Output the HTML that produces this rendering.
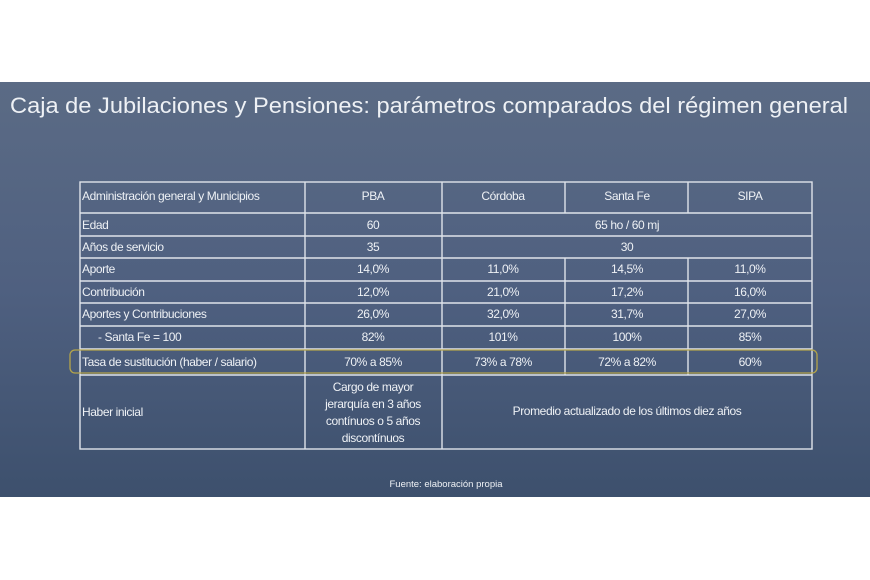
<!DOCTYPE html>
<html><head><meta charset="utf-8"><style>
html,body{margin:0;padding:0;background:#fff;}
svg{display:block}
text{font-family:"Liberation Sans",sans-serif;fill:#eef1f5;}
</style></head><body>
<svg width="870" height="580" viewBox="0 0 870 580" xmlns="http://www.w3.org/2000/svg">
<defs><linearGradient id="g" x1="0" y1="0" x2="0" y2="1">
<stop offset="0" stop-color="#5b6b85"/><stop offset="0.5" stop-color="#4f6080"/><stop offset="1" stop-color="#3d506d"/></linearGradient></defs>
<rect x="0" y="82" width="870" height="415" fill="url(#g)"/>
<text x="10" y="113" font-size="22" textLength="838" lengthAdjust="spacingAndGlyphs" fill="#f2f4f8">Caja de Jubilaciones y Pensiones: parámetros comparados del régimen general</text>
<g stroke="#dfe3ea" stroke-width="1.4" fill="none">
<rect x="80" y="182" width="732" height="267"/>
<line x1="80" y1="213" x2="812" y2="213"/>
<line x1="80" y1="236" x2="812" y2="236"/>
<line x1="80" y1="258" x2="812" y2="258"/>
<line x1="80" y1="281" x2="812" y2="281"/>
<line x1="80" y1="303" x2="812" y2="303"/>
<line x1="80" y1="326" x2="812" y2="326"/>
<line x1="80" y1="349" x2="812" y2="349"/>
<line x1="80" y1="375" x2="812" y2="375"/>
<line x1="305" y1="182" x2="305" y2="449"/>
<line x1="442" y1="182" x2="442" y2="449"/>
<line x1="565" y1="182" x2="565" y2="213"/>
<line x1="688" y1="182" x2="688" y2="213"/>
<line x1="565" y1="258" x2="565" y2="375"/>
<line x1="688" y1="258" x2="688" y2="375"/>
</g>
<rect x="70" y="350" width="747" height="23" rx="5" fill="none" stroke="#b5a54a" stroke-width="1.3"/>
<g font-size="12" letter-spacing="-0.4">
<text x="82" y="200">Administración general y Municipios</text>
<text x="82" y="229">Edad</text>
<text x="82" y="251">Años de servicio</text>
<text x="82" y="273">Aporte</text>
<text x="82" y="296">Contribución</text>
<text x="82" y="318">Aportes y Contribuciones</text>
<text x="98" y="341">- Santa Fe = 100</text>
<text x="82" y="366">Tasa de sustitución (haber / salario)</text>
<text x="82" y="416">Haber inicial</text>
</g>
<g font-size="12" letter-spacing="-0.4" text-anchor="middle">
<text x="373" y="200">PBA</text><text x="503" y="200">Córdoba</text><text x="627" y="200">Santa Fe</text><text x="750" y="200">SIPA</text>
<text x="373" y="229">60</text><text x="627" y="229">65 ho / 60 mj</text>
<text x="373" y="251">35</text><text x="627" y="251">30</text>
<text x="373" y="273">14,0%</text><text x="503" y="273">11,0%</text><text x="627" y="273">14,5%</text><text x="750" y="273">11,0%</text>
<text x="373" y="296">12,0%</text><text x="503" y="296">21,0%</text><text x="627" y="296">17,2%</text><text x="750" y="296">16,0%</text>
<text x="373" y="318">26,0%</text><text x="503" y="318">32,0%</text><text x="627" y="318">31,7%</text><text x="750" y="318">27,0%</text>
<text x="373" y="341">82%</text><text x="503" y="341">101%</text><text x="627" y="341">100%</text><text x="750" y="341">85%</text>
<text x="373" y="366">70% a 85%</text><text x="503" y="366">73% a 78%</text><text x="627" y="366">72% a 82%</text><text x="750" y="366">60%</text>
<text x="373" y="391">Cargo de mayor</text>
<text x="373" y="408">jerarquía en 3 años</text>
<text x="373" y="425">contínuos o 5 años</text>
<text x="373" y="442">discontínuos</text>
<text x="627" y="415">Promedio actualizado de los últimos diez años</text>
</g>
<text x="446" y="487" font-size="9.5" text-anchor="middle">Fuente: elaboración propia</text>
</svg>
</body></html>
